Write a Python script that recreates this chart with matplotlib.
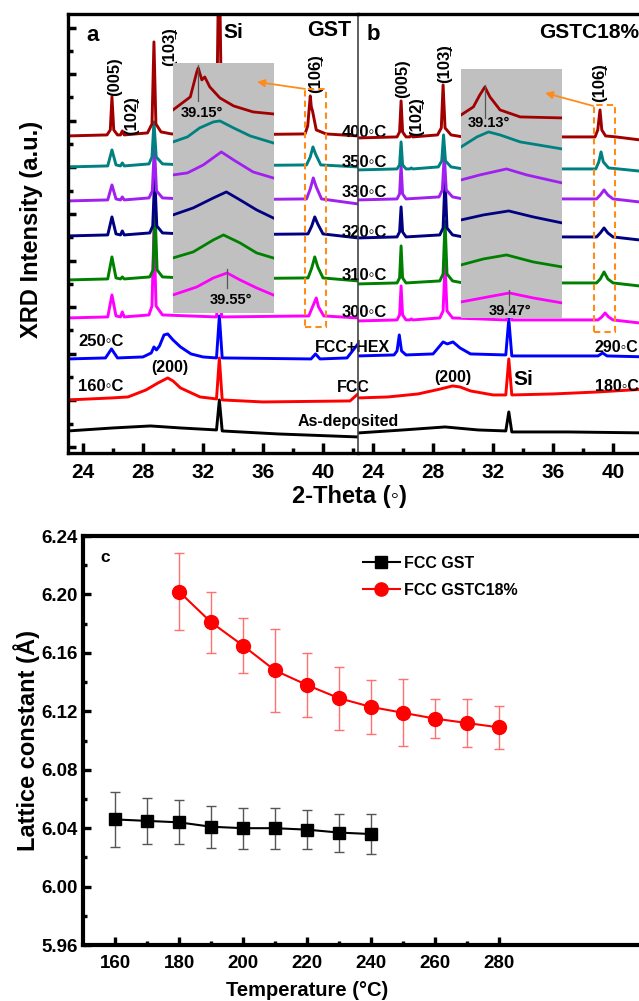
"""
XRD patterns of GST and GSTC18% films against annealing temperature,
and the FCC lattice constant against temperature.
"""

import matplotlib

matplotlib.use("Agg")
import matplotlib.pyplot as plt
import numpy as np
from matplotlib.font_manager import FontProperties
from matplotlib.patches import Rectangle
from matplotlib.ticker import FormatStrFormatter, MultipleLocator

plt.rcParams["font.family"] = ["Liberation Sans", "DejaVu Sans"]
plt.rcParams["font.weight"] = "bold"
plt.rcParams["axes.labelweight"] = "bold"

# ------------------------------------------------------------------------------------
# XRD patterns: knots of (2-theta, intensity above the trace baseline), a.u.
# ------------------------------------------------------------------------------------
# GST
a400_x = [23.0, 25.6, 25.82, 25.93, 26.05, 26.3, 26.5, 26.62, 26.75, 28.3, 28.6, 28.73, 28.86, 29.2, 29.9, 32.9, 33.07, 33.25, 38.8, 38.98, 39.15, 39.22, 39.3, 39.55, 40.2, 42.33]
a400_y = [0.0, 0.1, 0.6, 3.9, 0.6, 0.1, 0.1, 0.5, 0.1, 0.3, 1.2, 9.4, 1.2, 0.4, 0.2, 0.1, 20.0, 0.1, 0.2, 1.0, 4.0, 2.9, 2.5, 0.6, 0.2, 0.0]
a350_x = [23.0, 25.65, 25.93, 26.2, 26.5, 26.62, 26.75, 28.4, 28.6, 28.73, 28.88, 29.3, 32.0, 38.9, 39.15, 39.33, 39.5, 39.85, 42.33]
a350_y = [0.0, 0.1, 1.7, 0.2, 0.1, 0.4, 0.1, 0.3, 1.0, 4.5, 1.0, 0.3, 0.1, 0.2, 1.0, 2.0, 1.3, 0.2, 0.0]
a330_x = [23.0, 25.65, 25.93, 26.2, 26.5, 26.62, 26.75, 28.4, 28.62, 28.76, 28.9, 29.3, 32.0, 38.9, 39.15, 39.35, 39.55, 39.9, 42.33]
a330_y = [0.0, 0.1, 1.6, 0.2, 0.1, 0.4, 0.1, 0.3, 1.0, 5.5, 1.0, 0.3, 0.1, 0.2, 1.2, 2.3, 1.4, 0.2, -0.3]
a320_x = [23.0, 25.65, 25.93, 26.2, 26.5, 26.62, 26.75, 28.45, 28.65, 28.78, 28.92, 29.3, 32.0, 39.0, 39.25, 39.45, 39.65, 40.0, 42.33]
a320_y = [0.0, 0.1, 1.9, 0.2, 0.1, 0.5, 0.1, 0.3, 1.0, 6.0, 1.0, 0.3, 0.1, 0.2, 1.0, 1.9, 1.2, 0.2, -0.2]
a310_x = [23.0, 25.65, 25.93, 26.2, 26.5, 26.62, 26.75, 28.45, 28.67, 28.8, 28.94, 29.3, 32.0, 39.0, 39.25, 39.45, 39.65, 40.0, 42.33]
a310_y = [0.0, 0.1, 2.3, 0.2, 0.1, 0.3, 0.1, 0.3, 1.0, 7.0, 1.0, 0.3, 0.1, 0.2, 1.2, 2.3, 1.3, 0.2, -0.1]
a300_x = [23.0, 25.65, 25.93, 26.2, 26.5, 26.62, 26.75, 28.4, 28.6, 28.73, 28.87, 29.3, 32.9, 33.07, 33.25, 39.05, 39.3, 39.55, 39.7, 40.05, 42.33]
a300_y = [0.0, 0.1, 2.3, 0.2, 0.1, 0.6, 0.1, 0.3, 1.2, 9.0, 1.2, 0.3, 0.1, 3.0, 0.1, 0.2, 1.1, 2.0, 1.1, 0.2, 0.0]
a250_x = [23.0, 25.5, 25.9, 26.3, 28.0, 28.55, 28.73, 28.9, 29.1, 29.4, 29.65, 30.0, 30.5, 31.2, 32.0, 32.9, 33.09, 33.28, 39.2, 39.5, 39.8, 41.6, 42.33]
a250_y = [0.0, 0.1, 1.0, 0.1, 0.2, 0.6, 1.2, 0.9, 1.3, 2.4, 2.5, 1.9, 1.2, 0.5, 0.2, 0.1, 4.3, 0.1, 0.0, 0.5, 0.0, 0.1, 1.5]
a160_x = [23.0, 25.9, 27.0, 28.2, 29.0, 29.65, 30.0, 30.5, 31.8, 32.9, 33.09, 33.28, 36.0, 41.8, 42.33]
a160_y = [0.0, 0.2, 0.3, 1.0, 1.7, 2.2, 1.9, 1.2, 0.3, 0.1, 4.2, 0.0, -0.2, -0.1, 0.6]
a_dep_x = [23.0, 26.0, 28.5, 30.5, 32.9, 33.09, 33.28, 37.0, 42.33]
a_dep_y = [0.0, 0.3, 0.5, 0.3, 0.1, 3.1, 0.0, -0.3, -0.6]

# GSTC18%
b400_x = [23.0, 25.6, 25.77, 25.87, 25.97, 26.2, 26.45, 26.55, 26.65, 28.3, 28.55, 28.67, 28.8, 29.2, 30.0, 38.8, 38.98, 39.13, 39.25, 39.5, 40.2, 42.33]
b400_y = [0.0, 0.1, 0.6, 3.7, 0.6, 0.1, 0.1, 0.3, 0.1, 0.3, 1.0, 5.3, 1.0, 0.3, 0.1, 0.1, 0.8, 2.8, 0.8, 0.2, 0.1, -0.3]
b350_x = [23.0, 25.6, 25.77, 25.87, 25.97, 26.2, 26.45, 26.55, 26.65, 28.35, 28.58, 28.7, 28.83, 29.2, 30.0, 38.85, 39.05, 39.2, 39.35, 39.7, 42.33]
b350_y = [0.0, 0.1, 0.5, 2.8, 0.5, 0.1, 0.1, 0.2, 0.1, 0.3, 0.9, 3.5, 0.9, 0.3, 0.1, 0.1, 0.8, 1.8, 0.8, 0.2, -0.2]
b330_x = [23.0, 25.6, 25.77, 25.87, 25.97, 26.2, 28.4, 28.62, 28.75, 28.88, 29.3, 30.0, 38.9, 39.15, 39.4, 39.65, 40.0, 42.33]
b330_y = [0.0, 0.1, 0.6, 3.5, 0.6, 0.1, 0.3, 1.0, 4.5, 1.0, 0.3, 0.1, 0.1, 0.5, 1.0, 0.5, 0.1, -0.3]
b320_x = [23.0, 25.6, 25.77, 25.87, 25.97, 26.2, 28.45, 28.67, 28.8, 28.93, 29.3, 30.0, 38.9, 39.15, 39.4, 39.65, 40.0, 42.33]
b320_y = [0.0, 0.1, 0.6, 3.1, 0.6, 0.1, 0.3, 1.0, 6.0, 1.0, 0.3, 0.1, 0.1, 0.5, 1.0, 0.5, 0.1, -0.3]
b310_x = [23.0, 25.6, 25.77, 25.87, 25.97, 26.2, 28.45, 28.67, 28.8, 28.93, 29.3, 30.0, 38.9, 39.15, 39.4, 39.65, 40.0, 42.33]
b310_y = [0.0, 0.1, 0.6, 3.8, 0.6, 0.1, 0.3, 1.0, 6.3, 1.0, 0.3, 0.1, 0.1, 0.5, 1.2, 0.5, 0.1, -0.3]
b300_x = [23.0, 25.6, 25.77, 25.87, 25.97, 26.2, 26.45, 26.55, 26.65, 28.45, 28.67, 28.8, 28.93, 29.3, 32.9, 33.07, 33.25, 39.0, 39.25, 39.47, 39.7, 40.0, 42.33]
b300_y = [0.0, 0.1, 0.6, 3.5, 0.6, 0.1, 0.1, 0.2, 0.1, 0.3, 1.0, 5.7, 1.0, 0.3, 0.1, 3.0, 0.1, 0.1, 0.4, 0.8, 0.4, 0.1, -0.3]
b290_x = [23.0, 25.4, 25.6, 25.75, 25.9, 26.2, 28.0, 28.45, 28.67, 28.95, 29.33, 29.8, 30.5, 32.85, 33.05, 33.25, 39.0, 39.3, 39.6, 42.33]
b290_y = [0.0, 0.1, 0.5, 2.1, 0.5, 0.1, 0.2, 1.0, 1.4, 1.2, 1.4, 0.8, 0.2, 0.1, 3.7, 0.0, 0.0, 0.3, 0.0, -0.1]
b180_x = [23.0, 25.0, 27.0, 28.5, 29.3, 29.8, 30.5, 32.0, 32.85, 33.05, 33.25, 36.0, 39.0, 42.33]
b180_y = [0.0, 0.1, 0.4, 0.9, 1.2, 1.1, 0.7, 0.3, 0.3, 3.9, 0.3, 0.4, 0.6, 0.9]
b_dep_x = [23.0, 26.0, 28.8, 31.0, 32.85, 33.05, 33.25, 37.0, 42.33]
b_dep_y = [0.0, 0.3, 0.6, 0.3, 0.2, 2.1, 0.1, 0.1, 0.0]

# stacking offsets, top trace first
A_OFFSETS = [31.7, 28.6, 25.2, 21.7, 17.3, 13.5, 9.4, 5.3, 2.2]
B_OFFSETS = [31.5, 28.3, 25.3, 21.5, 16.9, 13.2, 9.7, 5.5, 2.0]
TRACE_COLORS = ["#A00000", "#008080", "#A020F0", "#000080", "#008000",
                "#FF00FF", "#0000FF", "#FF0000", "#000000"]

# zoomed (106) peaks, 38.8-40.2 deg, already stacked
ia400_x = [38.80, 39.04, 39.13, 39.15, 39.20, 39.24, 39.31, 39.45, 39.64, 39.91, 40.19]
ia400_y = [20.3, 21.6, 24.1, 24.5, 23.3, 23.6, 22.6, 21.5, 20.7, 20.1, 19.9]
ia350_x = [38.80, 39.00, 39.17, 39.36, 39.45, 39.64, 39.87, 40.19]
ia350_y = [17.1, 17.6, 18.5, 19.1, 19.2, 18.5, 17.7, 17.0]
ia330_x = [38.80, 39.00, 39.22, 39.47, 39.64, 39.91, 40.19]
ia330_y = [13.8, 14.0, 14.8, 16.1, 15.3, 14.1, 13.5]
ia320_x = [38.80, 39.08, 39.36, 39.54, 39.73, 39.96, 40.19]
ia320_y = [9.8, 10.5, 11.5, 12.1, 11.3, 10.3, 9.5]
ia310_x = [38.80, 39.08, 39.36, 39.50, 39.73, 39.96, 40.19]
ia310_y = [5.5, 6.1, 7.3, 7.8, 7.0, 6.0, 5.5]
ia300_x = [38.80, 39.13, 39.36, 39.55, 39.73, 39.96, 40.19]
ia300_y = [1.8, 2.6, 3.5, 4.0, 3.3, 2.5, 1.8]

ib400_x = [38.80, 38.97, 39.06, 39.13, 39.20, 39.34, 39.62, 40.20]
ib400_y = [20.3, 21.1, 22.3, 23.1, 22.1, 20.8, 20.1, 20.0]
ib350_x = [38.80, 39.02, 39.18, 39.34, 39.62, 40.20]
ib350_y = [17.1, 18.1, 18.6, 18.3, 17.6, 16.9]
ib330_x = [38.80, 39.06, 39.43, 39.71, 40.20]
ib330_y = [13.8, 14.3, 14.9, 14.3, 13.5]
ib320_x = [38.80, 39.11, 39.46, 39.80, 40.20]
ib320_y = [9.8, 10.3, 10.7, 10.1, 9.5]
ib310_x = [38.80, 39.11, 39.43, 39.80, 40.20]
ib310_y = [5.3, 5.9, 6.3, 5.6, 5.1]
ib300_x = [38.80, 39.17, 39.47, 39.80, 40.20]
ib300_y = [1.6, 2.1, 2.5, 2.0, 1.5]

PEAKS_GST = [39.15, 39.55]
PEAKS_GSTC = [39.13, 39.47]

HEX_TEMPS = ["400", "350", "330", "320", "310", "300"]

# ------------------------------------------------------------------------------------
# Lattice constants (FCC)
# ------------------------------------------------------------------------------------
T_GST = [160, 170, 180, 190, 200, 210, 220, 230, 240]
A_GST = [6.046, 6.045, 6.044, 6.041, 6.040, 6.040, 6.039, 6.037, 6.036]
ERR_GST = [0.019, 0.016, 0.015, 0.0145, 0.014, 0.014, 0.0135, 0.013, 0.014]

T_GSTC = [180, 190, 200, 210, 220, 230, 240, 250, 260, 270, 280]
A_GSTC = [6.202, 6.181, 6.165, 6.148, 6.138, 6.129, 6.123, 6.119, 6.115, 6.112, 6.109]
ERR_GSTC = [0.0265, 0.021, 0.019, 0.0285, 0.0217, 0.0215, 0.0186, 0.0228, 0.0134, 0.0165, 0.0146]

T_TICKS = [160, 180, 200, 220, 240, 260, 280]

DEG = "\u25e6"
ORANGE = "#FF8C1A"

fig = plt.figure(figsize=(6.39, 10.01), dpi=100)

ax_a = fig.add_axes([0.1064, 0.5475, 0.4538, 0.4386])
ax_b = fig.add_axes([0.5603, 0.5475, 0.4538, 0.4386])
ax_c = fig.add_axes([0.1299, 0.0559, 0.9014, 0.4086])

A_TRACES = [(a400_x, a400_y), (a350_x, a350_y), (a330_x, a330_y), (a320_x, a320_y),
            (a310_x, a310_y), (a300_x, a300_y), (a250_x, a250_y), (a160_x, a160_y),
            (a_dep_x, a_dep_y)]
B_TRACES = [(b400_x, b400_y), (b350_x, b350_y), (b330_x, b330_y), (b320_x, b320_y),
            (b310_x, b310_y), (b300_x, b300_y), (b290_x, b290_y), (b180_x, b180_y),
            (b_dep_x, b_dep_y)]

for ax, traces, offsets in [(ax_a, A_TRACES, A_OFFSETS), (ax_b, B_TRACES, B_OFFSETS)]:
    # bottom trace first so the upper patterns sit on top
    for (xs, ys), off, col in reversed(list(zip(traces, offsets, TRACE_COLORS))):
        ax.plot(xs, np.asarray(ys) + off, color=col, lw=2.1, solid_joinstyle="round")
    ax.set_xlim(23.0, 42.33)
    ax.set_ylim(0, 43.9)
    ax.patch.set_visible(False)
    ax.xaxis.set_major_locator(MultipleLocator(4))
    ax.xaxis.set_minor_locator(MultipleLocator(2))
    ax.tick_params(axis="x", which="major", direction="in", length=7, width=2.5,
                   labelsize=15, pad=7, top=False)
    ax.tick_params(axis="x", which="minor", direction="in", length=3.5, width=2.5, top=False)
    for side in ["top", "bottom"]:
        ax.spines[side].set_linewidth(2.4)

ax_a.spines["left"].set_linewidth(2.4)
ax_a.spines["right"].set_visible(False)
ax_a.set_yticks(np.arange(0.6, 43.9, 4.66))
ax_a.set_yticks(np.arange(2.93, 43.9, 4.66), minor=True)
ax_a.tick_params(axis="y", which="major", direction="in", length=6, width=2.5,
                 labelleft=False, right=False)
ax_a.tick_params(axis="y", which="minor", direction="in", length=3.5, width=2.5, right=False)
ax_b.spines["left"].set_linewidth(1.2)
ax_b.spines["left"].set_color("#444444")
ax_b.tick_params(axis="y", left=False, right=False, labelleft=False)

ax_a.set_ylabel("XRD Intensity (a.u.)", fontsize=17)
ax_a.yaxis.set_label_coords(-0.086, 0.508)
ax_a.set_xlabel("2-Theta (" + DEG + ")", fontsize=17, va="top")
ax_a.xaxis.set_label_coords(0.969, -0.073)

# zoomed insets of the (106) reflection
INSET_A = [(ia400_x, ia400_y), (ia350_x, ia350_y), (ia330_x, ia330_y),
           (ia320_x, ia320_y), (ia310_x, ia310_y), (ia300_x, ia300_y)]
INSET_B = [(ib400_x, ib400_y), (ib350_x, ib350_y), (ib330_x, ib330_y),
           (ib320_x, ib320_y), (ib310_x, ib310_y), (ib300_x, ib300_y)]

for ax, bounds, data, peaks, marks, label_pos in [
    (ax_a, [30.0, 14.0, 6.73, 25.0], INSET_A, PEAKS_GST,
     [(21.2, 24.8), (2.5, 4.4)], [(39.2, 20.0), (39.6, 1.3)]),
    (ax_b, [29.87, 13.5, 6.73, 24.9], INSET_B, PEAKS_GSTC,
     [(20.0, 23.3), (1.3, 2.8)], [(39.19, 19.5), (39.48, 0.7)]),
]:
    ins = ax.inset_axes(bounds, transform=ax.transData)
    ins.set_facecolor("#C0C0C0")
    for (xs, ys), col in zip(data, TRACE_COLORS):
        ins.plot(xs, ys, color=col, lw=2.0)
    for p, (y0, y1), (tx, ty) in zip(peaks, marks, label_pos):
        ins.plot([p, p], [y0, y1], color="#555555", lw=0.9)
        ins.text(tx, ty, f"{p:.2f}\u00b0", fontsize=10.5, ha="center", va="center")
    ins.set_xlim(38.8, 40.2)
    ins.set_ylim(0, bounds[3])
    ins.set_xticks([])
    ins.set_yticks([])
    for s in ins.spines.values():
        s.set_visible(False)

# dashed boxes around the (106) peaks and arrows to the zoomed view
for ax, box, start, end in [
    (ax_a, (38.8, 12.6, 1.4, 23.8), (38.8, 36.4), (35.6, 37.1)),
    (ax_b, (38.73, 12.1, 1.4, 22.7), (38.67, 34.7), (35.47, 36.0)),
]:
    ax.add_patch(Rectangle(box[:2], box[2], box[3], fill=False, ec=ORANGE,
                           lw=1.5, ls=(0, (3, 2)), zorder=6))
    ax.annotate("", xy=end, xytext=start, zorder=7,
                arrowprops=dict(arrowstyle="-|>", color=ORANGE, lw=1.3,
                                mutation_scale=11, shrinkA=0, shrinkB=0))

# panel a annotations
ax_a.text(24.2, 41.7, "a", fontsize=16, va="center")
ax_a.text(33.33, 42.0, "Si", fontsize=15, va="center")
ax_a.text(40.4, 42.2, "GST", fontsize=15.5, ha="center", va="center")
for x, y, s in [(26.13, 37.6, "(005)"), (27.27, 33.7, "(102\u0332)"),
                (29.8, 40.6, "(103\u0332)"), (39.53, 37.9, "(106\u0332)")]:
    ax_a.text(x, y, s, rotation=90, fontsize=12, ha="center", va="center")
for t, y in zip(HEX_TEMPS, [32.0, 29.0, 26.0, 22.0, 17.7, 14.0]):
    ax_a.text(41.27, y, t + DEG + "C", fontsize=12, va="center", clip_on=False, zorder=8)
ax_a.text(23.67, 11.1, "250" + DEG + "C", fontsize=12, va="center")
ax_a.text(23.67, 6.6, "160" + DEG + "C", fontsize=12, va="center")
ax_a.text(29.8, 8.5, "(200)", fontsize=11.5, ha="center", va="center")
ax_a.text(39.47, 10.5, "FCC+HEX", fontsize=11.5, va="center", clip_on=False, zorder=8)
ax_a.text(42.0, 6.5, "FCC", fontsize=11.5, ha="center", va="center", clip_on=False, zorder=8)
ax_a.text(41.67, 3.1, "As-deposited", fontsize=11.5, ha="center", va="center",
          clip_on=False, zorder=8)

# panel b annotations
ax_b.text(23.6, 41.8, "b", fontsize=16, va="center")
ax_b.text(35.07, 42.0, "GSTC18%", fontsize=15, va="center")
for x, y, s in [(26.0, 37.4, "(005)"), (26.93, 33.6, "(102\u0332)"),
                (28.8, 38.9, "(103\u0332)"), (39.13, 37.0, "(106\u0332)")]:
    ax_b.text(x, y, s, rotation=90, fontsize=12, ha="center", va="center")
ax_b.text(38.78, 10.5, "290" + DEG + "C", fontsize=11.5, va="center")
ax_b.text(38.8, 6.6, "180" + DEG + "C", fontsize=11.5, va="center")
ax_b.text(29.33, 7.5, "(200)", fontsize=11.5, ha="center", va="center")
ax_b.text(34.0, 7.3, "Si", fontsize=15, ha="center", va="center")

# ------------------------------------------------------------------------------------
# Panel c: lattice constant vs temperature
# ------------------------------------------------------------------------------------
ax_c.errorbar(T_GST, A_GST, yerr=ERR_GST, fmt="none", ecolor="#555555",
              elinewidth=1.0, capsize=3.5, capthick=1.0)
ax_c.errorbar(T_GSTC, A_GSTC, yerr=ERR_GSTC, fmt="none", ecolor="#FF7070",
              elinewidth=1.0, capsize=3.5, capthick=1.0)
ax_c.plot(T_GST, A_GST, "-s", color="#000000", ms=9, lw=1.5, label="FCC GST")
ax_c.plot(T_GSTC, A_GSTC, "-o", color="#FF0000", ms=10, lw=1.5, label="FCC GSTC18%")
ax_c.set_xlim(150, 330)
ax_c.set_ylim(5.96, 6.24)
ax_c.set_xticks(T_TICKS)
ax_c.set_xticks([t + 10 for t in T_TICKS[:-1]], minor=True)
ax_c.yaxis.set_major_locator(MultipleLocator(0.04))
ax_c.yaxis.set_minor_locator(MultipleLocator(0.02))
ax_c.yaxis.set_major_formatter(FormatStrFormatter("%.2f"))
ax_c.tick_params(which="major", direction="in", length=6, width=2.4, labelsize=13.5,
                 top=False, right=False)
ax_c.tick_params(axis="x", which="major", pad=7.5)
ax_c.tick_params(axis="y", which="major", pad=3.6)
ax_c.tick_params(which="minor", direction="in", length=3, width=2.4, top=False, right=False)
for s in ax_c.spines.values():
    s.set_linewidth(3)

ax_c.set_xlabel("Temperature (\u00b0C)", fontsize=14.5, va="top")
ax_c.xaxis.set_label_coords(0.389, -0.088)
ax_c.set_ylabel("Lattice constant (\u00c5)", fontsize=17)
ax_c.yaxis.set_label_coords(-0.075, 0.50)
ax_c.text(155.3, 6.2256, "c", fontsize=12.5, va="center")

ax_c.legend(loc="upper left", bbox_to_anchor=(0.486, 0.952), frameon=False,
            borderaxespad=0, borderpad=0, handlelength=2.3, handletextpad=0.3,
            labelspacing=0.75, markerscale=0.95,
            prop=FontProperties(weight="bold", size=11.5))

fig.savefig("out.png", dpi=100)
